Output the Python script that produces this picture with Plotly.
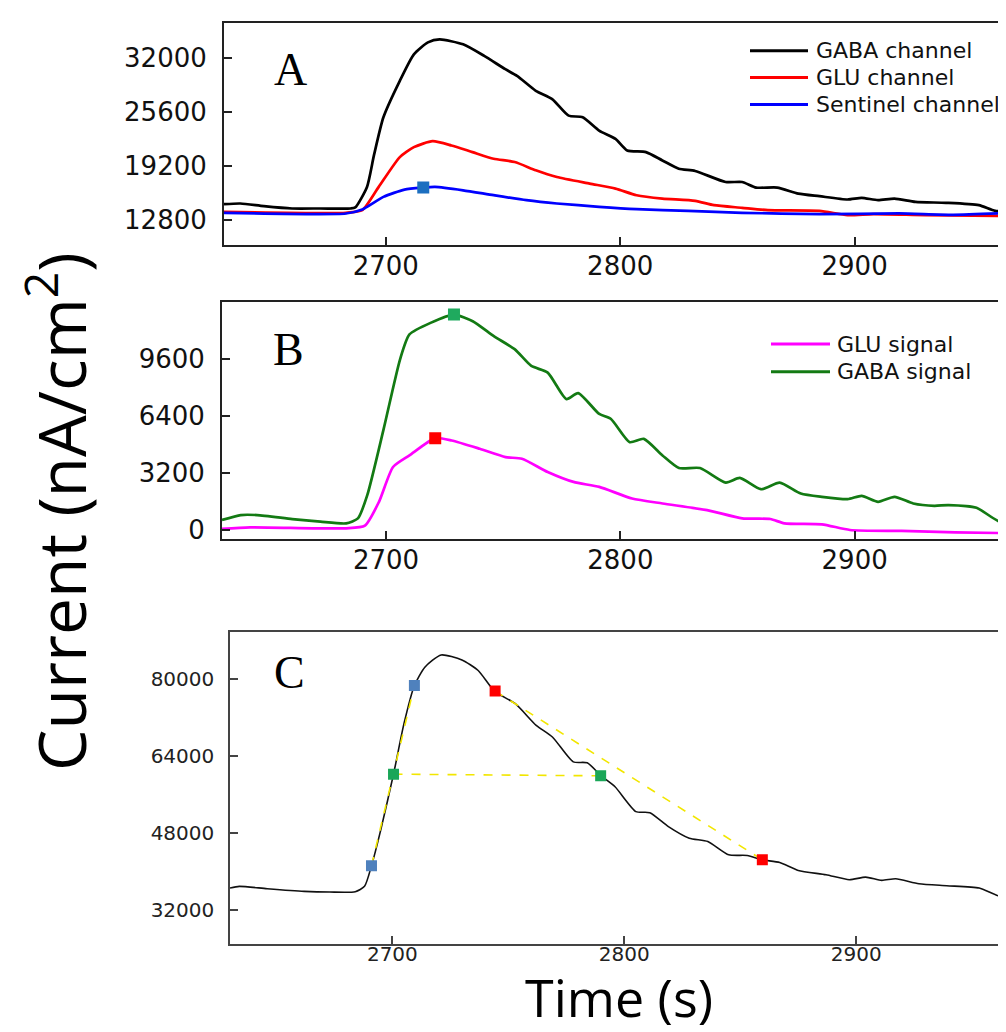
import plotly.graph_objects as go

W, H = 1006, 1032

# ---------------- Panel A: raw channels ----------------
a_gaba_t = [2631, 2638, 2648, 2660, 2672, 2685, 2687, 2692, 2695, 2699, 2706, 2712, 2718, 2723,
            2733, 2742, 2751, 2756, 2764, 2771, 2778, 2784, 2791, 2798, 2803, 2811, 2818, 2825,
            2832, 2845, 2852, 2858, 2867, 2876, 2885, 2897, 2903, 2910, 2917, 2926, 2939, 2953,
            2960, 2968]
a_gaba_v = [14680, 14760, 14450, 14170, 14170, 14170, 14300, 16720, 20500, 24950, 29260, 32390,
            33800, 34150, 33570, 32200, 30630, 29840, 28080, 27100, 25140, 24950, 23380, 22400,
            21030, 20830, 19850, 18870, 18600, 17300, 17300, 16640, 16640, 15930, 15620, 15230,
            15420, 15150, 15340, 14950, 14840, 14560, 13890, 13890]

a_glu_t = [2631, 2683, 2690, 2697, 2706, 2712, 2720, 2728, 2737, 2746, 2755, 2764, 2773, 2787,
           2798, 2807, 2818, 2832, 2840, 2852, 2863, 2885, 2897, 2908, 2930, 2968]
a_glu_v = [13780, 13660, 13970, 16720, 20240, 21420, 22120, 21620, 20830, 20050, 19660, 18680,
           17890, 17110, 16520, 15740, 15340, 15070, 14560, 14250, 13970, 13890, 13380, 13500,
           13380, 13270]

a_sent_t = [2631, 2683, 2690, 2699, 2708, 2716, 2721, 2733, 2746, 2760, 2773, 2791, 2807, 2829,
            2852, 2885, 2919, 2942, 2968]
a_sent_v = [13660, 13580, 14050, 15540, 16400, 16640, 16720, 16320, 15740, 15150, 14760, 14370,
            14090, 13890, 13660, 13500, 13580, 13420, 13660]

a_sent_peak_t = [2716]
a_sent_peak_v = [16640]

a_ticks = [12800, 19200, 25600, 32000]

# ---------------- Panel B: signals ----------------
b_gaba_t = [2630, 2638, 2645, 2660, 2672, 2683, 2688, 2692, 2699, 2706, 2710, 2719, 2729, 2737,
            2746, 2755, 2762, 2769, 2777, 2782, 2791, 2796, 2804, 2810, 2818, 2825, 2834, 2845,
            2851, 2860, 2868, 2877, 2886, 2897, 2903, 2910, 2917, 2925, 2934, 2940, 2952, 2962,
            2969]
b_gaba_v = [557, 836, 836, 613, 464, 371, 650, 1950, 5664, 9564, 10956, 11606, 12070, 11700,
            10864, 10120, 9192, 8821, 7335, 7670, 6500, 6221, 4921, 5107, 4178, 3473, 3473, 2655,
            2915, 2284, 2655, 2043, 1857, 1727, 1913, 1578, 1857, 1486, 1356, 1393, 1244, 464, 687]

b_glu_t = [2630, 2642, 2683, 2691, 2697, 2703, 2710, 2721, 2728, 2740, 2751, 2758, 2769, 2780,
           2791, 2805, 2818, 2837, 2852, 2864, 2870, 2886, 2898, 2920, 2943, 2969]
b_glu_v = [56, 148, 93, 241, 1578, 3528, 4178, 5144, 5014, 4550, 4085, 3992, 3250, 2693, 2414,
           1764, 1486, 1114, 650, 613, 371, 316, 0, -56, -130, -186]

b_gaba_peak_t = [2729]
b_gaba_peak_v = [12070]
b_glu_peak_t = [2721]
b_glu_peak_v = [5144]

b_ticks = [0, 3200, 6400, 9600]

# ---------------- Panel C: kinetics ----------------
c_t = [2630, 2634, 2646, 2662, 2673, 2684, 2688, 2691, 2695, 2700.5, 2705, 2709.5, 2714, 2721,
       2730, 2737, 2744, 2753, 2762, 2769, 2778, 2784, 2790, 2796, 2805, 2811, 2819, 2828, 2836,
       2845, 2853, 2859.5, 2867, 2875, 2887, 2897, 2904, 2911, 2917, 2927, 2939, 2953, 2962, 2968]
c_v = [36490, 36840, 36350, 35800, 35660, 35730, 36840, 41120, 48580, 60180, 70680, 78620, 82420,
       84970, 83940, 81730, 77450, 74820, 70330, 67910, 62730, 62530, 59830, 57560, 52380, 52170,
       49270, 46850, 46160, 43400, 43260, 42360, 41810, 40150, 39250, 38220, 38770, 38080, 38430,
       37390, 36980, 36490, 34770, 35320]

c_rise_t = [2691, 2709.5]
c_rise_v = [41120, 78620]
c_half_t = [2700.5, 2789.8]
c_half_v = [60180, 59830]
c_decay_t = [2744.3, 2859.5]
c_decay_v = [77450, 42360]

c_ticks = [32000, 48000, 64000, 80000]
x_ticks = [2700, 2800, 2900]

# legends
a_legend = ["GABA channel", "GLU channel", "Sentinel channel"]
b_legend = ["GLU signal", "GABA signal"]


def px(x):
    return x / W


def py(y):
    return 1 - y / H


fig = go.Figure()
SM = 0.6

# Panel A traces
fig.add_trace(go.Scatter(x=a_gaba_t, y=a_gaba_v, mode="lines", name=a_legend[0],
                         line=dict(color="#000000", width=2.7, shape="spline", smoothing=SM),
                         xaxis="x", yaxis="y"))
fig.add_trace(go.Scatter(x=a_glu_t, y=a_glu_v, mode="lines", name=a_legend[1],
                         line=dict(color="#ff0000", width=2.7, shape="spline", smoothing=SM),
                         xaxis="x", yaxis="y"))
fig.add_trace(go.Scatter(x=a_sent_t, y=a_sent_v, mode="lines", name=a_legend[2],
                         line=dict(color="#0000ff", width=2.7, shape="spline", smoothing=SM),
                         xaxis="x", yaxis="y"))
fig.add_trace(go.Scatter(x=a_sent_peak_t, y=a_sent_peak_v, mode="markers",
                         marker=dict(symbol="square", size=12, color="#1c6fc0"),
                         xaxis="x", yaxis="y"))

# Panel B traces
fig.add_trace(go.Scatter(x=b_glu_t, y=b_glu_v, mode="lines", name=b_legend[0],
                         line=dict(color="#ff00ff", width=2.7, shape="spline", smoothing=SM),
                         xaxis="x2", yaxis="y2"))
fig.add_trace(go.Scatter(x=b_gaba_t, y=b_gaba_v, mode="lines", name=b_legend[1],
                         line=dict(color="#137a13", width=2.7, shape="spline", smoothing=SM),
                         xaxis="x2", yaxis="y2"))
fig.add_trace(go.Scatter(x=b_gaba_peak_t, y=b_gaba_peak_v, mode="markers",
                         marker=dict(symbol="square", size=12, color="#1faa5e"),
                         xaxis="x2", yaxis="y2"))
fig.add_trace(go.Scatter(x=b_glu_peak_t, y=b_glu_peak_v, mode="markers",
                         marker=dict(symbol="square", size=12, color="#ff0000"),
                         xaxis="x2", yaxis="y2"))

# Panel C traces
fig.add_trace(go.Scatter(x=c_t, y=c_v, mode="lines",
                         line=dict(color="#111111", width=1.6, shape="spline", smoothing=SM),
                         xaxis="x3", yaxis="y3"))
for tt, vv in [(c_rise_t, c_rise_v), (c_half_t, c_half_v), (c_decay_t, c_decay_v)]:
    fig.add_trace(go.Scatter(x=tt, y=vv, mode="lines",
                             line=dict(color="#f2e600", width=1.6, dash="dash"),
                             xaxis="x3", yaxis="y3"))
for tt, vv, col in [(c_rise_t, c_rise_v, "#4f81bd"), (c_half_t, c_half_v, "#1aa658"),
                    (c_decay_t, c_decay_v, "#ff0000")]:
    fig.add_trace(go.Scatter(x=tt, y=vv, mode="markers",
                             marker=dict(symbol="square", size=11, color=col),
                             xaxis="x3", yaxis="y3"))

tick_font = dict(family="DejaVu Sans", size=26, color="#111111")
tick_font_c = dict(family="DejaVu Sans", size=20, color="#222222")


def xax(domain, anchor, rng, font, lw, lc, standoff):
    return dict(domain=domain, anchor=anchor, range=rng, tickvals=x_ticks, tickformat="d",
                showline=True, mirror=True, linecolor=lc, linewidth=lw,
                ticks="inside", ticklen=8, tickwidth=1.5, tickcolor=lc,
                showgrid=False, zeroline=False, tickfont=font,
                ticklabelstandoff=standoff)


def yax(domain, anchor, rng, vals, font, lw, lc, standoff):
    return dict(domain=domain, anchor=anchor, range=rng, tickvals=vals, tickformat="d",
                showline=True, mirror=False, linecolor=lc, linewidth=lw,
                ticks="inside", ticklen=8, tickwidth=1.5, tickcolor=lc,
                showgrid=False, zeroline=False, tickfont=font,
                ticklabelstandoff=standoff)


layout = dict(
    width=W, height=H, margin=dict(l=0, r=0, t=0, b=0),
    paper_bgcolor="white", plot_bgcolor="white", showlegend=False,
    xaxis=xax([px(216), 1], "y", [2631, 2968], tick_font, 2, "#222222", -3),
    yaxis=yax([py(238), py(15)], "x", [9900, 36100], a_ticks, tick_font, 2, "#222222", 10),
    xaxis2=xax([px(214), 1], "y2", [2630, 2968], tick_font, 2, "#222222", -3),
    yaxis2=yax([py(534), py(296)], "x2", [-500, 12760], b_ticks, tick_font, 2, "#222222", 10),
    xaxis3=xax([px(222), 1], "y3", [2630, 2968], tick_font_c, 1.5, "#444444", -8),
    yaxis3=yax([py(941), py(628)], "x3", [24950, 89670], c_ticks, tick_font_c, 1.5, "#444444", 10),
)
fig.update_layout(**layout)

shapes = []
annotations = []

# manual legends
a_cols = ["#000000", "#ff0000", "#0000ff"]
for i, (name, col) in enumerate(zip(a_legend, a_cols)):
    yy = 43 + 27 * i
    shapes.append(dict(type="line", xref="paper", yref="paper", x0=px(742), x1=px(800),
                       y0=py(yy), y1=py(yy), line=dict(color=col, width=3)))
    annotations.append(dict(text=name, xref="paper", yref="paper", x=px(806), y=py(yy),
                            xanchor="left", yanchor="middle", showarrow=False,
                            font=dict(family="DejaVu Sans", size=22, color="#111111")))
b_cols = ["#ff00ff", "#137a13"]
for i, (name, col) in enumerate(zip(b_legend, b_cols)):
    yy = 338 + 28 * i
    shapes.append(dict(type="line", xref="paper", yref="paper", x0=px(763), x1=px(822),
                       y0=py(yy), y1=py(yy), line=dict(color=col, width=3)))
    annotations.append(dict(text=name, xref="paper", yref="paper", x=px(827), y=py(yy),
                            xanchor="left", yanchor="middle", showarrow=False,
                            font=dict(family="DejaVu Sans", size=22, color="#111111")))

# panel letters
for letter, (lx, ly) in {"A": (282, 62), "B": (280, 343), "C": (281, 668)}.items():
    annotations.append(dict(text=letter, xref="paper", yref="paper", x=px(lx), y=py(ly),
                            xanchor="center", yanchor="middle", showarrow=False,
                            font=dict(family="Liberation Serif", size=46, color="#000000")))

# axis titles
annotations.append(dict(text="Current (nA/cm<sup>2</sup>)", xref="paper", yref="paper",
                        x=px(49), y=py(507), textangle=-90, xanchor="center", yanchor="middle",
                        showarrow=False,
                        font=dict(family="Open Sans", size=66, color="#000000")))
annotations.append(dict(text="Time (s)", xref="paper", yref="paper", x=px(611), y=py(994),
                        xanchor="center", yanchor="middle", showarrow=False,
                        font=dict(family="Open Sans", size=52, color="#000000")))

fig.update_layout(shapes=shapes, annotations=annotations)
fig.write_html("out.html")
